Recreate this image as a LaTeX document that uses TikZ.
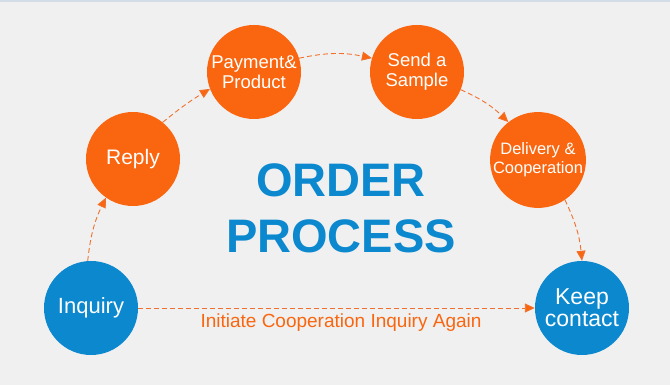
\documentclass[tikz,border=0pt]{standalone}
\usepackage{fontspec}
\setmainfont{Liberation Sans}
\usetikzlibrary{arrows.meta}
\definecolor{bg}{HTML}{F0F0F0}
\definecolor{topline}{HTML}{D3DDE7}
\definecolor{org}{HTML}{FA660F}
\definecolor{blu}{HTML}{0C88CF}
\definecolor{lnk}{HTML}{F0712E}
\tikzset{
  stepnode/.style={circle, minimum size=94pt, inner sep=0pt, align=center, text=white},
  orangenode/.style={stepnode, fill=org},
  bluenode/.style={stepnode, fill=blu},
  flow/.style={draw=lnk, line width=0.9pt, dash pattern=on 5pt off 3pt, -{Triangle[length=10pt,width=9pt,fill=org]}}
}
\begin{document}
\begin{tikzpicture}[x=1pt,y=1pt]
\useasboundingbox (0,0) rectangle (670,385);
\fill[bg] (0,0) rectangle (670,385);
\fill[topline] (0,382.5) rectangle (670,385);
\node[bluenode, font=\fontsize{22}{22}\selectfont] (inq) at (91,77) {Inquiry};
\node[orangenode, font=\fontsize{21}{21}\selectfont] (rep) at (133,226) {Reply};
\node[orangenode, font=\fontsize{18.5}{20}\selectfont] (pay) at (254,313) {Payment\&\\Product};
\node[orangenode, font=\fontsize{18.5}{20}\selectfont] (snd) at (417,313) {Send a\\Sample};
\node[orangenode, font=\fontsize{16.5}{19}\selectfont] (del) at (538,225) {Delivery \&\\Cooperation};
\node[bluenode, font=\fontsize{23}{22}\selectfont] (kp) at (582,77) {Keep\\contact};
\node[anchor=base, text=blu, font=\fontsize{47}{47}\selectfont\bfseries, inner sep=0pt] (t1) at (341,188) {ORDER};
\node[anchor=base, text=blu, font=\fontsize{47}{47}\selectfont\bfseries, inner sep=0pt] (t2) at (341,132) {PROCESS};
\node[anchor=base, text=org, font=\fontsize{19}{19}\selectfont, inner sep=0pt] (lbl) at (341,57) {Initiate Cooperation Inquiry Again};
\draw[flow] (inq.94) to[bend left=10] (rep.235);
\draw[flow] (rep.51) to[bend left=4] (pay.201);
\draw[flow] (pay.17) to[bend left=12] (snd.163);
\draw[flow] (snd.-22) to[bend left=10] (del.128);
\draw[flow] (del.-56) to[bend left=10] (kp.90);
\draw[flow] (inq.east) -- (kp.west);
\end{tikzpicture}
\end{document}
